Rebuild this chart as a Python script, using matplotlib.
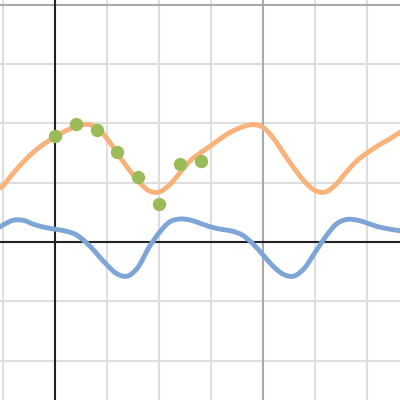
import matplotlib
matplotlib.use("Agg")
import matplotlib.pyplot as plt
from matplotlib.path import Path
from matplotlib.patches import PathPatch

# sampled curve positions (x) and read values
x_curve = [-1.2, -1.0, -0.8, -0.6, -0.4, -0.2, 0.0, 0.2, 0.4, 0.6, 0.8, 1.0, 1.2, 1.4,
           1.6, 1.8, 2.0, 2.2, 2.4, 2.6, 2.8, 3.0, 3.2, 3.4, 3.6, 3.8, 4.0, 4.2,
           4.4, 4.6, 4.8, 5.0, 5.2, 5.4, 5.6, 5.8, 6.0, 6.2, 6.4, 6.6, 6.8]

orange_y = [0.843, 0.953, 1.164, 1.358, 1.526, 1.661, 1.771, 1.872, 1.948, 1.985, 1.931,
            1.745, 1.492, 1.248, 1.029, 0.868, 0.843, 0.961, 1.164, 1.369, 1.504,
            1.627, 1.754, 1.863, 1.939, 1.981, 1.934, 1.749, 1.491, 1.239, 1.020,
            0.868, 0.843, 0.970, 1.175, 1.366, 1.501, 1.619, 1.720, 1.830, 1.939]

blue_y = [0.185, 0.287, 0.368, 0.363, 0.295, 0.248, 0.216, 0.185, 0.126, -0.008, -0.194,
          -0.388, -0.540, -0.573, -0.422, -0.101, 0.152, 0.337, 0.388, 0.371, 0.312,
          0.253, 0.214, 0.185, 0.118, -0.025, -0.219, -0.413, -0.548, -0.573, -0.438,
          -0.177, 0.084, 0.295, 0.379, 0.371, 0.320, 0.261, 0.223, 0.194, 0.169]

# sample points (green)
x_points = [0.0, 0.4, 0.8, 1.2, 1.6, 2.0, 2.4, 2.8]
y_points = [1.788, 1.985, 1.889, 1.523, 1.091, 0.649, 1.310, 1.358]

x_grid = [-1, 0, 1, 2, 3, 4, 5, 6]
y_grid = [-2, -1, 0, 1, 2, 3, 4]


def smooth_path(xs, ys):
    """Catmull-Rom spline through the read points, drawn as cubic Bezier path."""
    pts = list(zip(xs, ys))
    verts = [pts[0]]
    codes = [Path.MOVETO]
    n = len(pts)
    for i in range(n - 1):
        p0 = pts[i - 1] if i > 0 else pts[i]
        p1 = pts[i]
        p2 = pts[i + 1]
        p3 = pts[i + 2] if i + 2 < n else pts[i + 1]
        c1 = (p1[0] + (p2[0] - p0[0]) / 6.0, p1[1] + (p2[1] - p0[1]) / 6.0)
        c2 = (p2[0] - (p3[0] - p1[0]) / 6.0, p2[1] - (p3[1] - p1[1]) / 6.0)
        verts += [c1, c2, p2]
        codes += [Path.CURVE4, Path.CURVE4, Path.CURVE4]
    return Path(verts, codes)


fig = plt.figure(figsize=(4, 4), dpi=100)
ax = fig.add_axes([0, 0, 1, 1])
ax.set_xlim(-1.0577, 6.6346)
ax.set_ylim(-2.664, 4.081)
ax.axis("off")

for gx in x_grid:
    if gx == 0:
        ax.axvline(gx, color="#222222", lw=1.5, zorder=2)
    elif gx == 4:
        ax.axvline(gx, color="#aaaaaa", lw=1.5, zorder=1)
    else:
        ax.axvline(gx, color="#dedede", lw=1.5, zorder=0)
for gy in y_grid:
    if gy == 0:
        ax.axhline(gy, color="#222222", lw=1.5, zorder=2)
    elif gy == 4:
        ax.axhline(gy, color="#aaaaaa", lw=1.5, zorder=1)
    else:
        ax.axhline(gy, color="#dedede", lw=1.5, zorder=0)

for ys, col in ((orange_y, "#f9b27a"), (blue_y, "#7da5d7")):
    patch = PathPatch(smooth_path(x_curve, ys), facecolor="none", edgecolor=col,
                      lw=3.5, capstyle="round", joinstyle="round", zorder=3)
    ax.add_patch(patch)

ax.plot(x_points, y_points, "o", color="#9bbb59", markersize=9.6,
        markeredgewidth=0, zorder=4)

fig.savefig("out.png", dpi=100)
